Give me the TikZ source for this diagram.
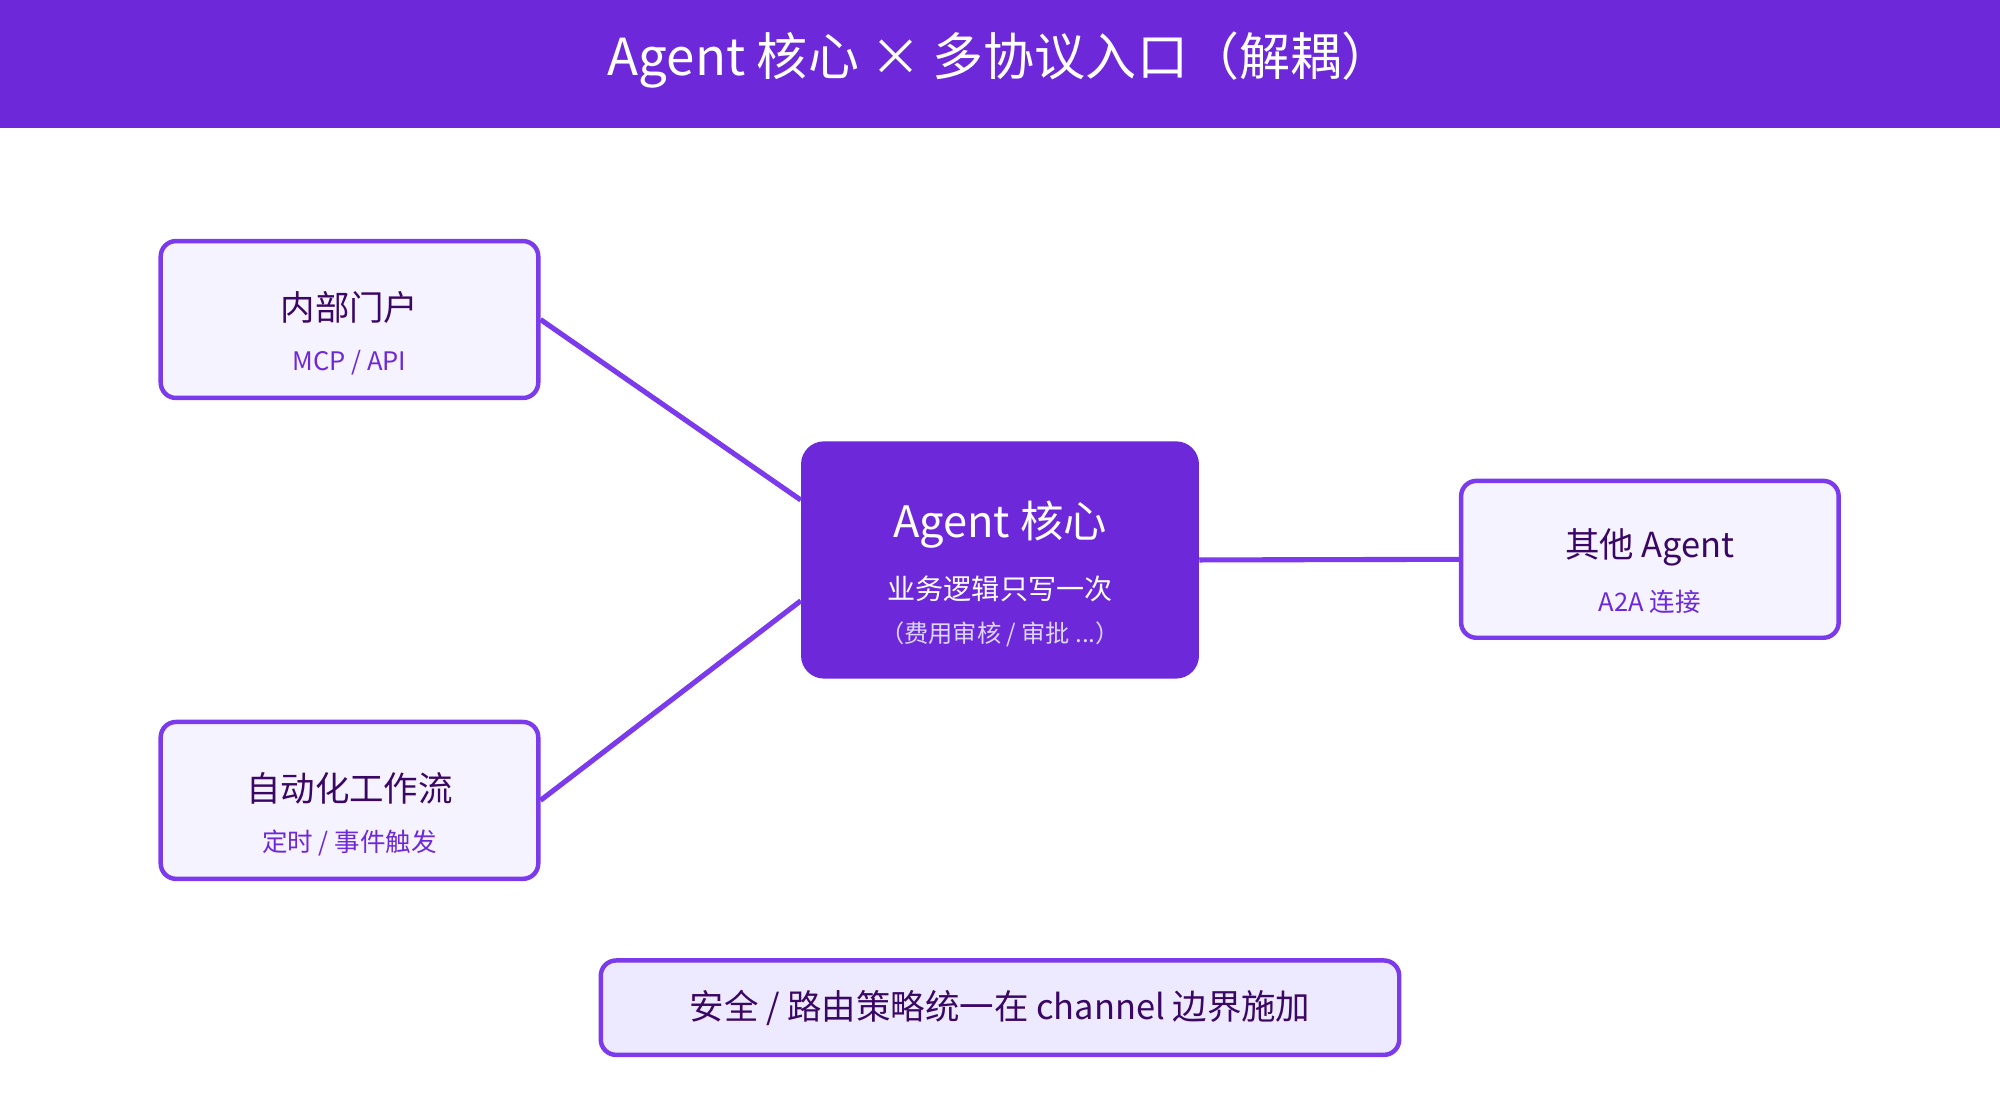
\documentclass[tikz,border=0pt]{standalone}
\usepackage{fontspec}
\setmainfont{Noto Sans CJK SC}
\usetikzlibrary{positioning}
\definecolor{violet}{HTML}{6D28D9}
\definecolor{edgeviolet}{HTML}{7C3AED}
\definecolor{paleviolet}{HTML}{F5F3FF}
\definecolor{lilac}{HTML}{EDE9FE}
\definecolor{darkviolet}{HTML}{3B0764}
\definecolor{softviolet}{HTML}{DDD6FE}
\begin{document}
\begin{tikzpicture}[x=1pt,y=-1pt,
  entry/.style={draw=edgeviolet,line width=3.5pt,fill=paleviolet,rounded corners=12pt,
    minimum width=296pt,minimum height=123pt,align=center},
  link/.style={draw=edgeviolet,line width=4pt}]
\useasboundingbox (0,0) rectangle (1568,878);

%title bar
\fill[violet] (0,0) rectangle (1568,100);
\node[text=white,font=\fontsize{40}{44}\selectfont] (title) at (784,47) {Agent 核心 × 多协议入口（解耦）};

%entries
\node[entry] (portal) at (274,250.5) {};
\node[text=darkviolet,font=\fontsize{27}{30}\selectfont] at (274,241) {内部门户};
\node[text=violet,font=\fontsize{20}{24}\selectfont] at (274,284) {MCP / API};

\node[entry] (flow) at (274,627.5) {};
\node[text=darkviolet,font=\fontsize{27}{30}\selectfont] at (274,618) {自动化工作流};
\node[text=violet,font=\fontsize{20}{24}\selectfont] at (274,661) {定时 / 事件触发};

\node[entry] (peer) at (1293.5,438.5) {};
\node[text=darkviolet,font=\fontsize{27}{30}\selectfont] at (1293.5,429) {其他 Agent};
\node[text=violet,font=\fontsize{20}{24}\selectfont] at (1293.5,472) {A2A 连接};

%core
\node[fill=violet,rounded corners=18pt,minimum width=312pt,minimum height=186pt] (core) at (784,439) {};
\node[text=white,font=\fontsize{34}{38}\selectfont] at (784,411) {Agent 核心};
\node[text=white,font=\fontsize{22}{26}\selectfont] at (784,462) {业务逻辑只写一次};
\node[text=softviolet,font=\fontsize{19}{22}\selectfont] at (784,497) {（费用审核 / 审批 ...）};

%connectors
\draw[link] (portal.east) -- ([yshift=47pt]core.west);
\draw[link] (flow.east) -- ([yshift=-32pt]core.west);
\draw[link] (core.east) -- (peer.west);

%footer
\node[draw=edgeviolet,line width=3.5pt,fill=lilac,rounded corners=12pt,
  minimum width=626pt,minimum height=74pt,text=darkviolet,
  font=\fontsize{27}{30}\selectfont] (policy) at (784,790) {安全 / 路由策略统一在 channel 边界施加};
\end{tikzpicture}
\end{document}
